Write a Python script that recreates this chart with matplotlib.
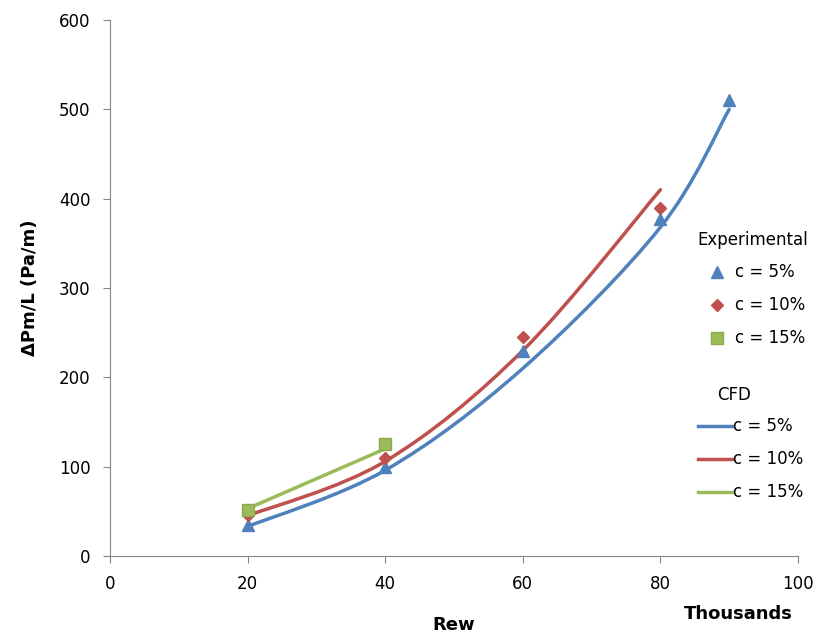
import matplotlib.pyplot as plt
from matplotlib.path import Path
from matplotlib.patches import PathPatch
from matplotlib.lines import Line2D

# experimental values (Rew in thousands)
exp_x5 = [20, 40, 60, 80, 90]
exp_y5 = [35, 100, 230, 377, 510]
exp_x10 = [20, 40, 60, 80]
exp_y10 = [46, 110, 245, 390]
exp_x15 = [20, 40]
exp_y15 = [51, 125]

# CFD values
cfd_x5 = [20, 40, 60, 80, 90]
cfd_y5 = [33, 96, 210, 368, 500]
cfd_x10 = [20, 40, 60, 80]
cfd_y10 = [45, 106, 230, 410]
cfd_x15 = [20, 40]
cfd_y15 = [53, 120]

blue = '#4F81BD'
red = '#C0504D'
green = '#9BBB59'
grey = '#868686'


def smooth_path(xs, ys):
    # Excel-like smoothed line: Catmull-Rom segments as cubic Bezier
    pts = list(zip(xs, ys))
    verts = [pts[0]]
    codes = [Path.MOVETO]
    n = len(pts)
    for i in range(n - 1):
        p0 = pts[i - 1] if i > 0 else pts[i]
        p1 = pts[i]
        p2 = pts[i + 1]
        p3 = pts[i + 2] if i + 2 < n else pts[i + 1]
        c1 = (p1[0] + (p2[0] - p0[0]) / 6, p1[1] + (p2[1] - p0[1]) / 6)
        c2 = (p2[0] - (p3[0] - p1[0]) / 6, p2[1] - (p3[1] - p1[1]) / 6)
        verts += [c1, c2, p2]
        codes += [Path.CURVE4] * 3
    return Path(verts, codes)


fig = plt.figure(figsize=(8.18, 6.37), dpi=100)
ax = fig.add_axes([110 / 818, 1 - 556 / 637, 688 / 818, 536 / 637])

for xs, ys, col in [(cfd_x5, cfd_y5, blue), (cfd_x10, cfd_y10, red), (cfd_x15, cfd_y15, green)]:
    ax.add_patch(PathPatch(smooth_path(xs, ys), facecolor='none', edgecolor=col, lw=2.5,
                           capstyle='round', zorder=2))

ax.plot(exp_x5, exp_y5, ls='none', marker='^', ms=8, color=blue, zorder=3)
ax.plot(exp_x10, exp_y10, ls='none', marker='D', ms=6, color=red, zorder=3)
ax.plot(exp_x15, exp_y15, ls='none', marker='s', ms=8, color=green,
        markeredgecolor='#8CAA4E', zorder=3)

ax.set_xlim(0, 100)
ax.set_ylim(0, 600)
ax.set_xticks(range(0, 101, 20))
ax.set_yticks(range(0, 601, 100))
for s in ['top', 'right']:
    ax.spines[s].set_visible(False)
for s in ['left', 'bottom']:
    ax.spines[s].set_color(grey)
ax.tick_params(colors=grey, labelcolor='black', labelsize=12, length=5, pad=9)

ax.set_ylabel('ΔPm/L (Pa/m)', fontsize=13, fontweight='bold', labelpad=14)
ax.set_xlabel('Rew', fontsize=13, fontweight='bold', labelpad=16)
fig.text(793 / 818, 1 - 614 / 637, 'Thousands', fontsize=13, fontweight='bold',
         ha='right', va='center')

exp_handles = [
    Line2D([], [], ls='none', marker='^', ms=8, color=blue),
    Line2D([], [], ls='none', marker='D', ms=6, color=red),
    Line2D([], [], ls='none', marker='s', ms=8, color=green, markeredgecolor='#8CAA4E'),
]
cfd_handles = [
    Line2D([], [], color=blue, lw=2.5),
    Line2D([], [], color=red, lw=2.5),
    Line2D([], [], color=green, lw=2.5),
]
labels = ['c = 5%', 'c = 10%', 'c = 15%']

fig.text(697 / 818, 1 - 240 / 637, 'Experimental', fontsize=12, ha='left', va='center')
leg1 = ax.legend(exp_handles, labels, frameon=False, fontsize=12,
                 loc='upper left', bbox_to_anchor=(696 / 818, 1 - 255 / 637),
                 bbox_transform=fig.transFigure, handlelength=1.56, handletextpad=0.3,
                 labelspacing=0.9, borderpad=0)
ax.add_artist(leg1)

fig.text(717 / 818, 1 - 395 / 637, 'CFD', fontsize=12, ha='left', va='center')
leg2 = ax.legend(cfd_handles, labels, frameon=False, fontsize=12,
                 loc='upper left', bbox_to_anchor=(690 / 818, 1 - 409 / 637),
                 bbox_transform=fig.transFigure, handlelength=2.0, handletextpad=0.1,
                 labelspacing=0.9, borderpad=0)

fig.savefig('out.png', dpi=100)
